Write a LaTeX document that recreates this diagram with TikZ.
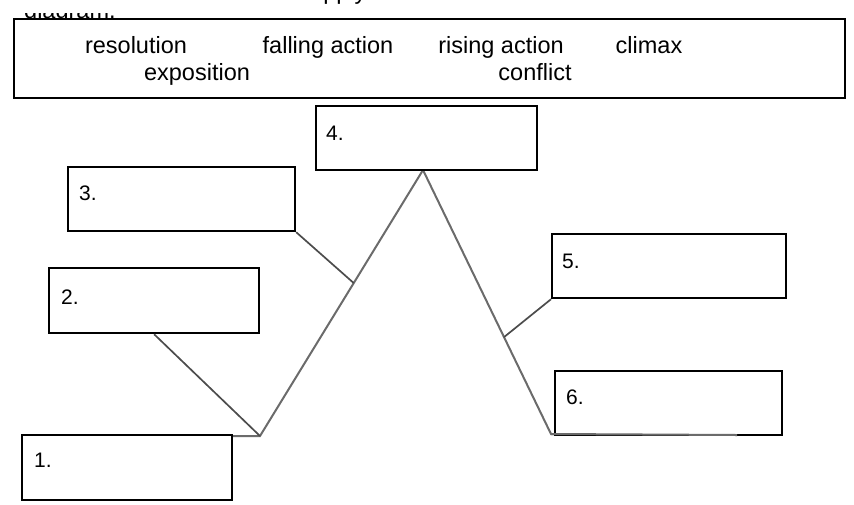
\documentclass[tikz,border=0pt]{standalone}
\usepackage{fontspec}
\setmainfont{Liberation Sans}
\usetikzlibrary{calc}
\begin{document}
\begin{tikzpicture}[x=1pt,y=-1pt,
  frame/.style={draw=black, line width=2.2pt, fill=white, rectangle, inner sep=0pt, anchor=north west},
  num/.style={inner sep=0pt, anchor=west, font=\fontsize{21}{24}\selectfont},
  word/.style={inner sep=0pt, anchor=base, font=\fontsize{23.5}{27}\selectfont},
  plot/.style={draw=black!58, line width=2pt, line join=miter},
  lead/.style={draw=black!70, line width=1.7pt}]
\useasboundingbox (0,0) rectangle (854,504);
% cut-off text fragments at the top
\node[word, anchor=base west] (fragA) at (310,-1) {apply};
\begin{scope}
  \clip (0,13) rectangle (140,30);
  \node[word, anchor=base west] (fragB) at (24,18) {diagram.};
\end{scope}
% word bank
\node[frame, minimum width=831pt, minimum height=79pt] (bank) at (13,18) {};
\node[word] (w1) at (136,53) {resolution};
\node[word] (w2) at (328,53) {falling action};
\node[word] (w3) at (501,53) {rising action};
\node[word] (w4) at (649,53) {climax};
\node[word] (w5) at (197,80) {exposition};
\node[word] (w6) at (535,80) {conflict};
% plot line
\coordinate (s0) at (112,436);
\coordinate (s1) at (260,436);
\coordinate (pk) at (423,170);
\coordinate (s2) at (551,434);
\coordinate (s3) at (737,435);
\draw[plot] (s0) -- (s1) -- (pk) -- (s2) -- (s3);
\coordinate (r3) at ($(s1)!0.575!(pk)$);
\coordinate (r5) at ($(pk)!0.633!(s2)$);
% boxes
\node[frame, minimum width=210pt, minimum height=65pt] (b1) at (21,434) {};
\node[frame, minimum width=210pt, minimum height=65pt] (b2) at (48,267) {};
\node[frame, minimum width=227pt, minimum height=64pt] (b3) at (67,166) {};
\node[frame, minimum width=221pt, minimum height=64pt] (b4) at (315,105) {};
\node[frame, minimum width=234pt, minimum height=64pt] (b5) at (551,233) {};
\node[frame, minimum width=227pt, minimum height=64pt] (b6) at (554,370) {};
\draw[plot] (s2) -- (s3);
% leaders
\draw[lead] (b2.south) -- (s1);
\draw[lead] (b3.south east) -- (r3);
\draw[lead] (b5.south west) -- (r5);
% numbers
\node[num] (n1) at ([shift={(13,26)}]b1.north west) {1.};
\node[num] (n2) at ([shift={(13,30)}]b2.north west) {2.};
\node[num] (n3) at ([shift={(12,27)}]b3.north west) {3.};
\node[num] (n4) at ([shift={(11,28)}]b4.north west) {4.};
\node[num] (n5) at ([shift={(11,28)}]b5.north west) {5.};
\node[num] (n6) at ([shift={(12,27)}]b6.north west) {6.};
\end{tikzpicture}
\end{document}
